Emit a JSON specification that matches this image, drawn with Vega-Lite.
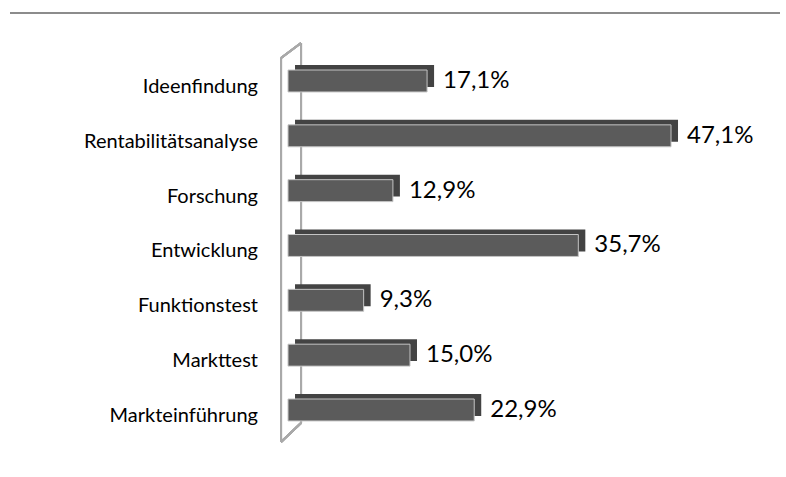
{
  "$schema": "https://vega.github.io/schema/vega-lite/v6.json",
  "width": 776,
  "height": 464,
  "autosize": "none",
  "padding": {"left": 10, "top": 13, "right": 0, "bottom": 0},
  "background": "white",
  "config": {"view": {"stroke": null}, "font": "Lato"},
  "data": {"values": [
    {"phase": "Ideenfindung", "wert": 17.1, "label": "17,1%"},
    {"phase": "Rentabilitätsanalyse", "wert": 47.1, "label": "47,1%"},
    {"phase": "Forschung", "wert": 12.9, "label": "12,9%"},
    {"phase": "Entwicklung ", "wert": 35.7, "label": "35,7%"},
    {"phase": "Funktionstest", "wert": 9.3, "label": "9,3%"},
    {"phase": "Markttest", "wert": 15.0, "label": "15,0%"},
    {"phase": "Markteinführung", "wert": 22.9, "label": "22,9%"}
  ]},
  "layer": [
    {
      "mark": {"type": "rule", "color": "#8c8c8c", "strokeWidth": 2, "yOffset": -68, "y2Offset": -68},
      "encoding": {
        "y": {"datum": "Ideenfindung", "type": "nominal",
          "scale": {"paddingInner": 0, "paddingOuter": 0.731, "align": 0.506, "domain": ["Ideenfindung", "Rentabilitätsanalyse", "Forschung", "Entwicklung ", "Funktionstest", "Markttest", "Markteinführung"]},
          "axis": null},
        "y2": {"datum": "Ideenfindung"},
        "x": {"datum": -34.19, "type": "quantitative",
          "scale": {"domain": [-34.19, 61.24], "nice": false, "zero": false},
          "axis": null},
        "x2": {"datum": 60.5}
      }
    },
    {
      "mark": {"type": "rule", "color": "#a9a9a9", "strokeWidth": 2, "yOffset": -23, "y2Offset": 32},
      "encoding": {
        "y": {"datum": "Ideenfindung", "type": "nominal", "axis": null},
        "y2": {"datum": "Markteinführung"},
        "x": {"datum": -0.86, "type": "quantitative", "axis": null}
      }
    },
    {
      "mark": {"type": "rule", "color": "#a9a9a9", "strokeWidth": 2, "yOffset": -38, "y2Offset": 13},
      "encoding": {"x": {"datum": 1.6, "type": "quantitative", "axis": null}, "y": {"datum": "Ideenfindung", "type": "nominal", "axis": null}, "y2": {"datum": "Markteinführung"}}
    },
    {
      "mark": {"type": "rule", "color": "#a9a9a9", "strokeWidth": 2, "yOffset": -23, "y2Offset": -38},
      "encoding": {"x": {"datum": -0.86, "type": "quantitative", "axis": null}, "x2": {"datum": 1.6}, "y": {"datum": "Ideenfindung", "type": "nominal", "axis": null}, "y2": {"datum": "Ideenfindung"}}
    },
    {
      "mark": {"type": "rule", "color": "#a9a9a9", "strokeWidth": 2, "yOffset": 32, "y2Offset": 13},
      "encoding": {"x": {"datum": -0.86, "type": "quantitative", "axis": null}, "x2": {"datum": 1.6}, "y": {"datum": "Markteinführung", "type": "nominal", "axis": null}, "y2": {"datum": "Markteinführung"}}
    },
    {
      "mark": {"type": "bar", "color": "#434343", "height": {"band": 0.4}, "xOffset": 7, "x2Offset": 7, "yOffset": -5, "y2Offset": -5},
      "encoding": {
        "y": {"field": "phase", "type": "nominal", "sort": null, "axis": null},
        "x": {"field": "wert", "type": "quantitative", "axis": null}
      }
    },
    {
      "mark": {"type": "bar", "color": "#5b5b5b", "height": {"band": 0.4}, "stroke": "#c4c4c4", "strokeWidth": 1},
      "encoding": {
        "y": {"field": "phase", "type": "nominal", "sort": null, "axis": null},
        "x": {"field": "wert", "type": "quantitative", "axis": null}
      }
    },
    {
      "mark": {"type": "text", "align": "left", "baseline": "middle", "dx": 16, "fontSize": 24, "color": "#000000"},
      "encoding": {
        "y": {"field": "phase", "type": "nominal", "sort": null, "axis": null},
        "x": {"field": "wert", "type": "quantitative", "axis": null},
        "text": {"field": "label"}
      }
    },
    {
      "mark": {"type": "text", "align": "right", "baseline": "middle", "dy": 6, "fontSize": 20, "color": "#000000"},
      "encoding": {
        "y": {"field": "phase", "type": "nominal", "sort": null, "axis": null},
        "x": {"datum": -3.69, "type": "quantitative", "axis": null},
        "text": {"field": "phase"}
      }
    }
  ]
}
